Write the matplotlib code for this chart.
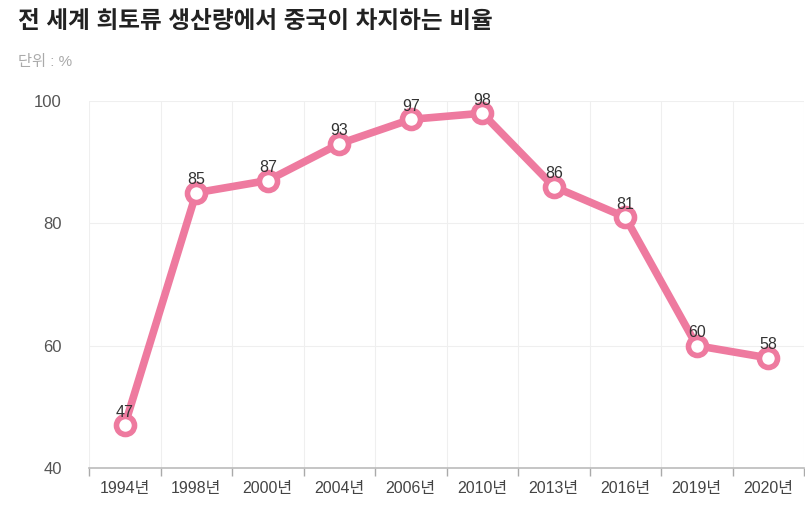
import matplotlib
matplotlib.use('Agg')
import matplotlib.pyplot as plt
import numpy as np

plt.rcParams['font.family'] = ['Liberation Sans', 'Noto Sans CJK KR', 'DejaVu Sans']

years = ['1994년', '1998년', '2000년', '2004년', '2006년', '2010년', '2013년', '2016년', '2019년', '2020년']
share = [47, 85, 87, 93, 97, 98, 86, 81, 60, 58]
yticks = [40, 60, 80, 100]

pink = '#EE7A9F'
grid_c = '#EFEFEF'

fig = plt.figure(figsize=(8.05, 5.08), dpi=100)
ax = fig.add_axes([89/805, 40/508, 715/805, 367/508])

x = np.arange(len(years))
ax.plot(x, share, color=pink, lw=5.5, zorder=3, solid_capstyle='round')
ax.plot(x, share, 'o', ms=13, mfc='white', mec=pink, mew=4, zorder=4)
for xi, v in zip(x, share):
    ax.annotate(str(v), (xi, v), xytext=(0, 4), textcoords='offset points',
                ha='center', va='bottom', fontsize=11.5, color='#333333', zorder=5)

ax.set_xlim(-0.5, len(years) - 0.5)
ax.set_ylim(40, 100)
ax.set_yticks(yticks)
ax.set_xticks(np.arange(len(years) + 1) - 0.5)
ax.set_xticklabels([])
ax.set_xticks(x, minor=True)
ax.set_xticklabels(years, minor=True)

ax.grid(True, axis='both', which='major', color=grid_c, lw=0.8, zorder=0)
ax.tick_params(axis='x', which='major', length=6, color='#AAAAAA', width=1)
ax.tick_params(axis='x', which='minor', length=0, pad=9, labelsize=11.5, labelcolor='#444444')
ax.tick_params(axis='y', length=0, pad=19.5, labelsize=12, labelcolor='#555555')

for s in ['top', 'right', 'left']:
    ax.spines[s].set_visible(False)
ax.spines['bottom'].set_color('#BBBBBB')
ax.spines['bottom'].set_linewidth(1.2)

fig.text(18/805, 1 - 22/508, '전 세계 희토류 생산량에서 중국이 차지하는 비율', fontsize=17,
         fontweight='bold', color='#222222', va='center', ha='left')
fig.text(18/805, 1 - 62/508, '단위 : %', fontsize=11, color='#AAAAAA', va='center', ha='left')

fig.savefig('out.png', dpi=100)
